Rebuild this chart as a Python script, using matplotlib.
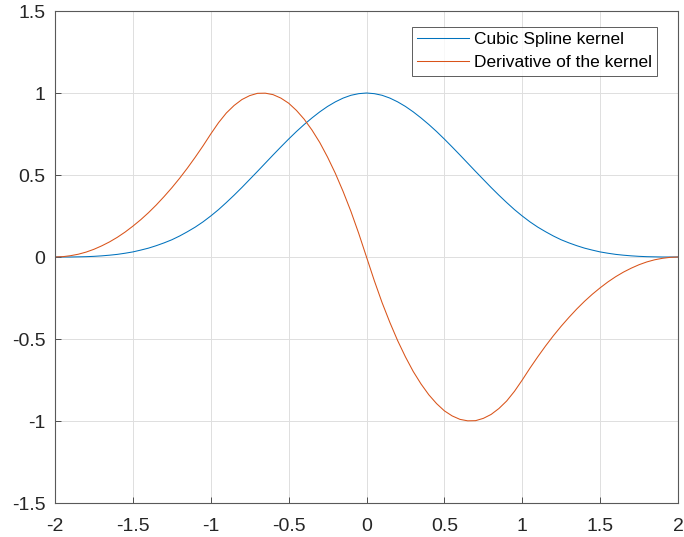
import matplotlib
matplotlib.use("Agg")
import matplotlib.pyplot as plt

# values, x step 0.05 from -2 to 2
x = [-2.00, -1.95, -1.90, -1.85, -1.80, -1.75, -1.70, -1.65, -1.60, -1.55,
     -1.50, -1.45, -1.40, -1.35, -1.30, -1.25, -1.20, -1.15, -1.10, -1.05,
     -1.00, -0.95, -0.90, -0.85, -0.80, -0.75, -0.70, -0.65, -0.60, -0.55,
     -0.50, -0.45, -0.40, -0.35, -0.30, -0.25, -0.20, -0.15, -0.10, -0.05,
     0.00, 0.05, 0.10, 0.15, 0.20, 0.25, 0.30, 0.35, 0.40, 0.45,
     0.50, 0.55, 0.60, 0.65, 0.70, 0.75, 0.80, 0.85, 0.90, 0.95,
     1.00, 1.05, 1.10, 1.15, 1.20, 1.25, 1.30, 1.35, 1.40, 1.45,
     1.50, 1.55, 1.60, 1.65, 1.70, 1.75, 1.80, 1.85, 1.90, 1.95, 2.00]

kernel = [0.000, 0.000, 0.000, 0.001, 0.002, 0.004, 0.007, 0.011, 0.016, 0.023,
          0.031, 0.042, 0.054, 0.069, 0.086, 0.105, 0.128, 0.154, 0.182, 0.214,
          0.250, 0.289, 0.332, 0.377, 0.424, 0.473, 0.522, 0.572, 0.622, 0.671,
          0.719, 0.765, 0.808, 0.848, 0.885, 0.918, 0.946, 0.969, 0.986, 0.996,
          1.000, 0.996, 0.986, 0.969, 0.946, 0.918, 0.885, 0.848, 0.808, 0.765,
          0.719, 0.671, 0.622, 0.572, 0.522, 0.473, 0.424, 0.377, 0.332, 0.289,
          0.250, 0.214, 0.182, 0.154, 0.128, 0.105, 0.086, 0.069, 0.054, 0.042,
          0.031, 0.023, 0.016, 0.011, 0.007, 0.004, 0.002, 0.001, 0.000, 0.000, 0.000]

derivative = [0.000, 0.002, 0.008, 0.017, 0.030, 0.047, 0.068, 0.092, 0.120, 0.152,
              0.188, 0.227, 0.270, 0.317, 0.368, 0.422, 0.480, 0.542, 0.608, 0.677,
              0.750, 0.819, 0.878, 0.924, 0.960, 0.984, 0.998, 0.999, 0.990, 0.969,
              0.938, 0.894, 0.840, 0.774, 0.698, 0.609, 0.510, 0.399, 0.278, 0.144,
              0.000, -0.144, -0.278, -0.399, -0.510, -0.609, -0.698, -0.774, -0.840, -0.894,
              -0.938, -0.969, -0.990, -0.999, -0.998, -0.984, -0.960, -0.924, -0.878, -0.819,
              -0.750, -0.677, -0.608, -0.542, -0.480, -0.422, -0.368, -0.317, -0.270, -0.227,
              -0.188, -0.152, -0.120, -0.092, -0.068, -0.047, -0.030, -0.017, -0.008, -0.002, 0.000]

xticks = [-2, -1.5, -1, -0.5, 0, 0.5, 1, 1.5, 2]
yticks = [-1.5, -1, -0.5, 0, 0.5, 1, 1.5]

plt.rcParams['font.family'] = ['Liberation Sans', 'DejaVu Sans']

fig = plt.figure(figsize=(6.84, 5.37), dpi=100)
ax = fig.add_axes([55 / 684, 34 / 537, 623 / 684, 492 / 537])

ax.plot(x, kernel, color=(0, 0.447, 0.741), lw=0.75, label="Cubic Spline kernel")
ax.plot(x, derivative, color=(0.85, 0.325, 0.098), lw=0.75, label="Derivative of the kernel")

ax.set_xlim(-2, 2)
ax.set_ylim(-1.5, 1.5)
ax.set_xticks(xticks)
ax.set_yticks(yticks)
ax.set_xticklabels([f"{t:g}" for t in xticks])
ax.set_yticklabels([f"{t:g}" for t in yticks])
ax.tick_params(direction="in", length=4, width=0.7, colors="0.3", labelsize=14)
ax.tick_params(axis="x", pad=11)
ax.tick_params(axis="y", pad=7)
for lab in ax.get_xticklabels() + ax.get_yticklabels():
    lab.set_color("0.15")
ax.grid(True, color="0.87", lw=0.7)
for s in ax.spines.values():
    s.set_color("0.35")
    s.set_linewidth(0.8)

leg = ax.legend(loc="upper right", fontsize=12.5, frameon=True, fancybox=False,
                handlelength=3.0, borderpad=0.3, labelspacing=0.45, handletextpad=0.25,
                borderaxespad=0, bbox_to_anchor=(602 / 623, 476 / 492))
leg.get_frame().set_edgecolor("0.2")
leg.get_frame().set_linewidth(0.7)

fig.savefig("out.png", dpi=100)
